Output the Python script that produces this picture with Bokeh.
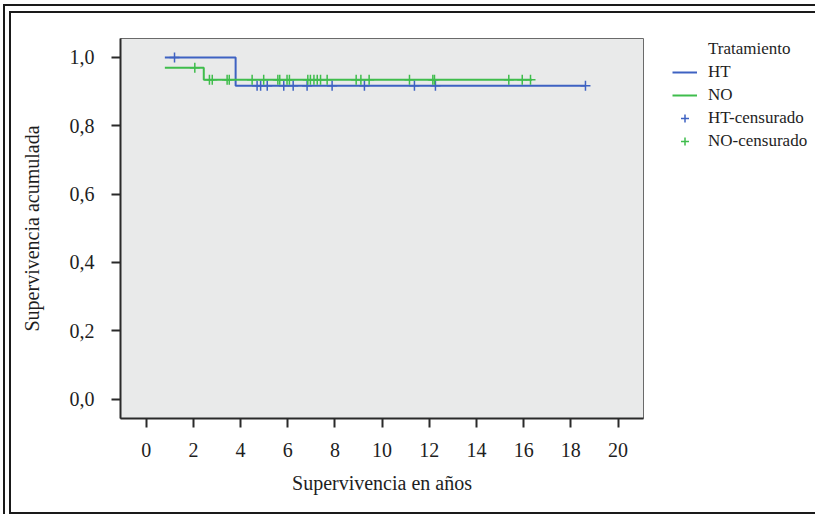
import numpy as np
from bokeh.plotting import figure
from bokeh.models import Range1d, FixedTicker, Legend, LegendItem, GlobalInlineStyleSheet
from bokeh.layouts import row
from bokeh.embed import file_html
from bokeh.resources import INLINE

# ---------------- data ----------------
ht_times = [0.79, 3.79, 18.62]
ht_surv = [1.0, 0.917, 0.917]
no_times = [0.79, 2.44, 16.35]
no_surv = [0.970, 0.935, 0.935]

ht_censored = [1.2, 4.7, 4.85, 5.13, 5.83, 6.23, 6.82, 7.88, 9.25, 11.37, 12.26, 18.62]
no_censored = [2.06, 2.68, 2.8, 3.43, 3.52, 4.49, 4.98, 5.58, 5.66, 5.97, 6.07, 6.85,
               6.96, 7.11, 7.25, 7.39, 7.67, 8.9, 9.1, 9.45, 11.16, 12.15, 12.22,
               15.37, 15.94, 16.29]

x_ticks = [0, 2, 4, 6, 8, 10, 12, 14, 16, 18, 20]
y_ticks = [0.0, 0.2, 0.4, 0.6, 0.8, 1.0]
y_tick_labels = ["0,0", "0,2", "0,4", "0,6", "0,8", "1,0"]

legend_title = "Tratamiento"
series_labels = ["HT", "NO", "HT-censurado", "NO-censurado"]

BLUE = "#3e62c2"
GREEN = "#3fbd4c"
FONT = "Liberation Serif"
DARK = "#1a1a1a"
NAN = float("nan")


def km_value(times, surv, t):
    idx = np.searchsorted(np.array(times), t, side="right") - 1
    return float(np.array(surv)[max(idx, 0)])


p = figure(
    width=645, height=514,
    min_border_left=120, min_border_right=2, min_border_top=38, min_border_bottom=96,
    x_range=Range1d(-1.09, 21.08), y_range=Range1d(-0.057, 1.0556),
    output_backend="svg", toolbar_location=None,
    background_fill_color="#e9eaea", border_fill_alpha=0,
)
p.grid.visible = False
p.outline_line_color = "#6a6a6a"
p.outline_line_width = 1

for ax in (p.xaxis[0], p.yaxis[0]):
    ax.axis_line_color = "#2a2a2a"
    ax.axis_line_width = 2
    ax.major_tick_line_color = "#2a2a2a"
    ax.major_tick_line_width = 2
    ax.major_tick_out = 9
    ax.major_tick_in = 0
    ax.minor_tick_line_color = None
    ax.major_label_text_font = FONT
    ax.major_label_text_font_size = "20px"
    ax.major_label_text_color = "#1e1e1e"
    ax.axis_label_text_font = FONT
    ax.axis_label_text_font_size = "20px"
    ax.axis_label_text_font_style = "normal"
    ax.axis_label_text_color = "#1e1e1e"

p.xaxis.ticker = FixedTicker(ticks=x_ticks)
p.yaxis.ticker = FixedTicker(ticks=y_ticks)
p.yaxis.major_label_overrides = {t: l for t, l in zip(y_ticks, y_tick_labels)}
p.xaxis.axis_label = "Supervivencia en años"
p.yaxis.axis_label = "Supervivencia acumulada"
p.xaxis.major_label_standoff = 15
p.xaxis.axis_label_standoff = 12
p.yaxis.major_label_standoff = 17
p.yaxis.axis_label_standoff = 24

p.step(ht_times, ht_surv, mode="after", line_color=BLUE, line_width=2)
p.step(no_times, no_surv, mode="after", line_color=GREEN, line_width=2)

ht_cy = [km_value(ht_times, ht_surv, t) for t in ht_censored]
no_cy = [km_value(no_times, no_surv, t) for t in no_censored]
p.scatter(ht_censored, ht_cy, marker="cross", size=10, line_color=BLUE, line_width=1.5)
p.scatter(no_censored, no_cy, marker="cross", size=10, line_color=GREEN, line_width=1.5)

# ---------------- legend panel (a plain area that only holds the legend) ----------------
lg = figure(
    width=170, height=514, min_border=0,
    x_range=Range1d(0, 1), y_range=Range1d(0, 1),
    x_axis_location=None, y_axis_location=None,
    output_backend="svg", toolbar_location=None,
    background_fill_alpha=0, border_fill_alpha=0,
)
lg.grid.visible = False
lg.outline_line_color = None

# legend proxies: they carry only the style (their single point is NaN, so nothing is drawn)
l_title = lg.scatter(x=[NAN], y=[NAN], marker="circle", size=1, fill_alpha=0, line_alpha=0)
l_ht = lg.line(x=[NAN], y=[NAN], line_color=BLUE, line_width=2)
l_no = lg.line(x=[NAN], y=[NAN], line_color=GREEN, line_width=2)
l_htc = lg.scatter(x=[NAN], y=[NAN], marker="cross", line_color=BLUE, line_width=1.5)
l_noc = lg.scatter(x=[NAN], y=[NAN], marker="cross", line_color=GREEN, line_width=1.5)

legend = Legend(
    items=[
        LegendItem(label=legend_title, renderers=[l_title]),
        LegendItem(label=series_labels[0], renderers=[l_ht]),
        LegendItem(label=series_labels[1], renderers=[l_no]),
        LegendItem(label=series_labels[2], renderers=[l_htc]),
        LegendItem(label=series_labels[3], renderers=[l_noc]),
    ],
    location=(27, 267),
    margin=0, padding=0, spacing=3,
    glyph_width=25, glyph_height=20, label_height=20, label_standoff=11,
    label_text_font=FONT, label_text_font_size="17px", label_text_color="#1e1e1e",
    border_line_color=None, background_fill_alpha=0,
)
lg.add_layout(legend)

layout = row(p, lg, spacing=0)
# double frame around the picture, drawn as inset shadows (no effect on layout)
layout.styles = {
    "box-shadow": (
        f"inset 3px 4px 0 0 white, inset 5px 6px 0 0 {DARK}, inset 9px 11px 0 0 white, "
        f"inset 0 -2px 0 0 {DARK}, inset 11px 13px 0 0 {DARK}"
    ),
    "background-color": "white",
}
layout.stylesheets = [GlobalInlineStyleSheet(css="html, body { margin: 0; overflow: hidden; }")]

open("out.html", "w").write(file_html(layout, INLINE))
